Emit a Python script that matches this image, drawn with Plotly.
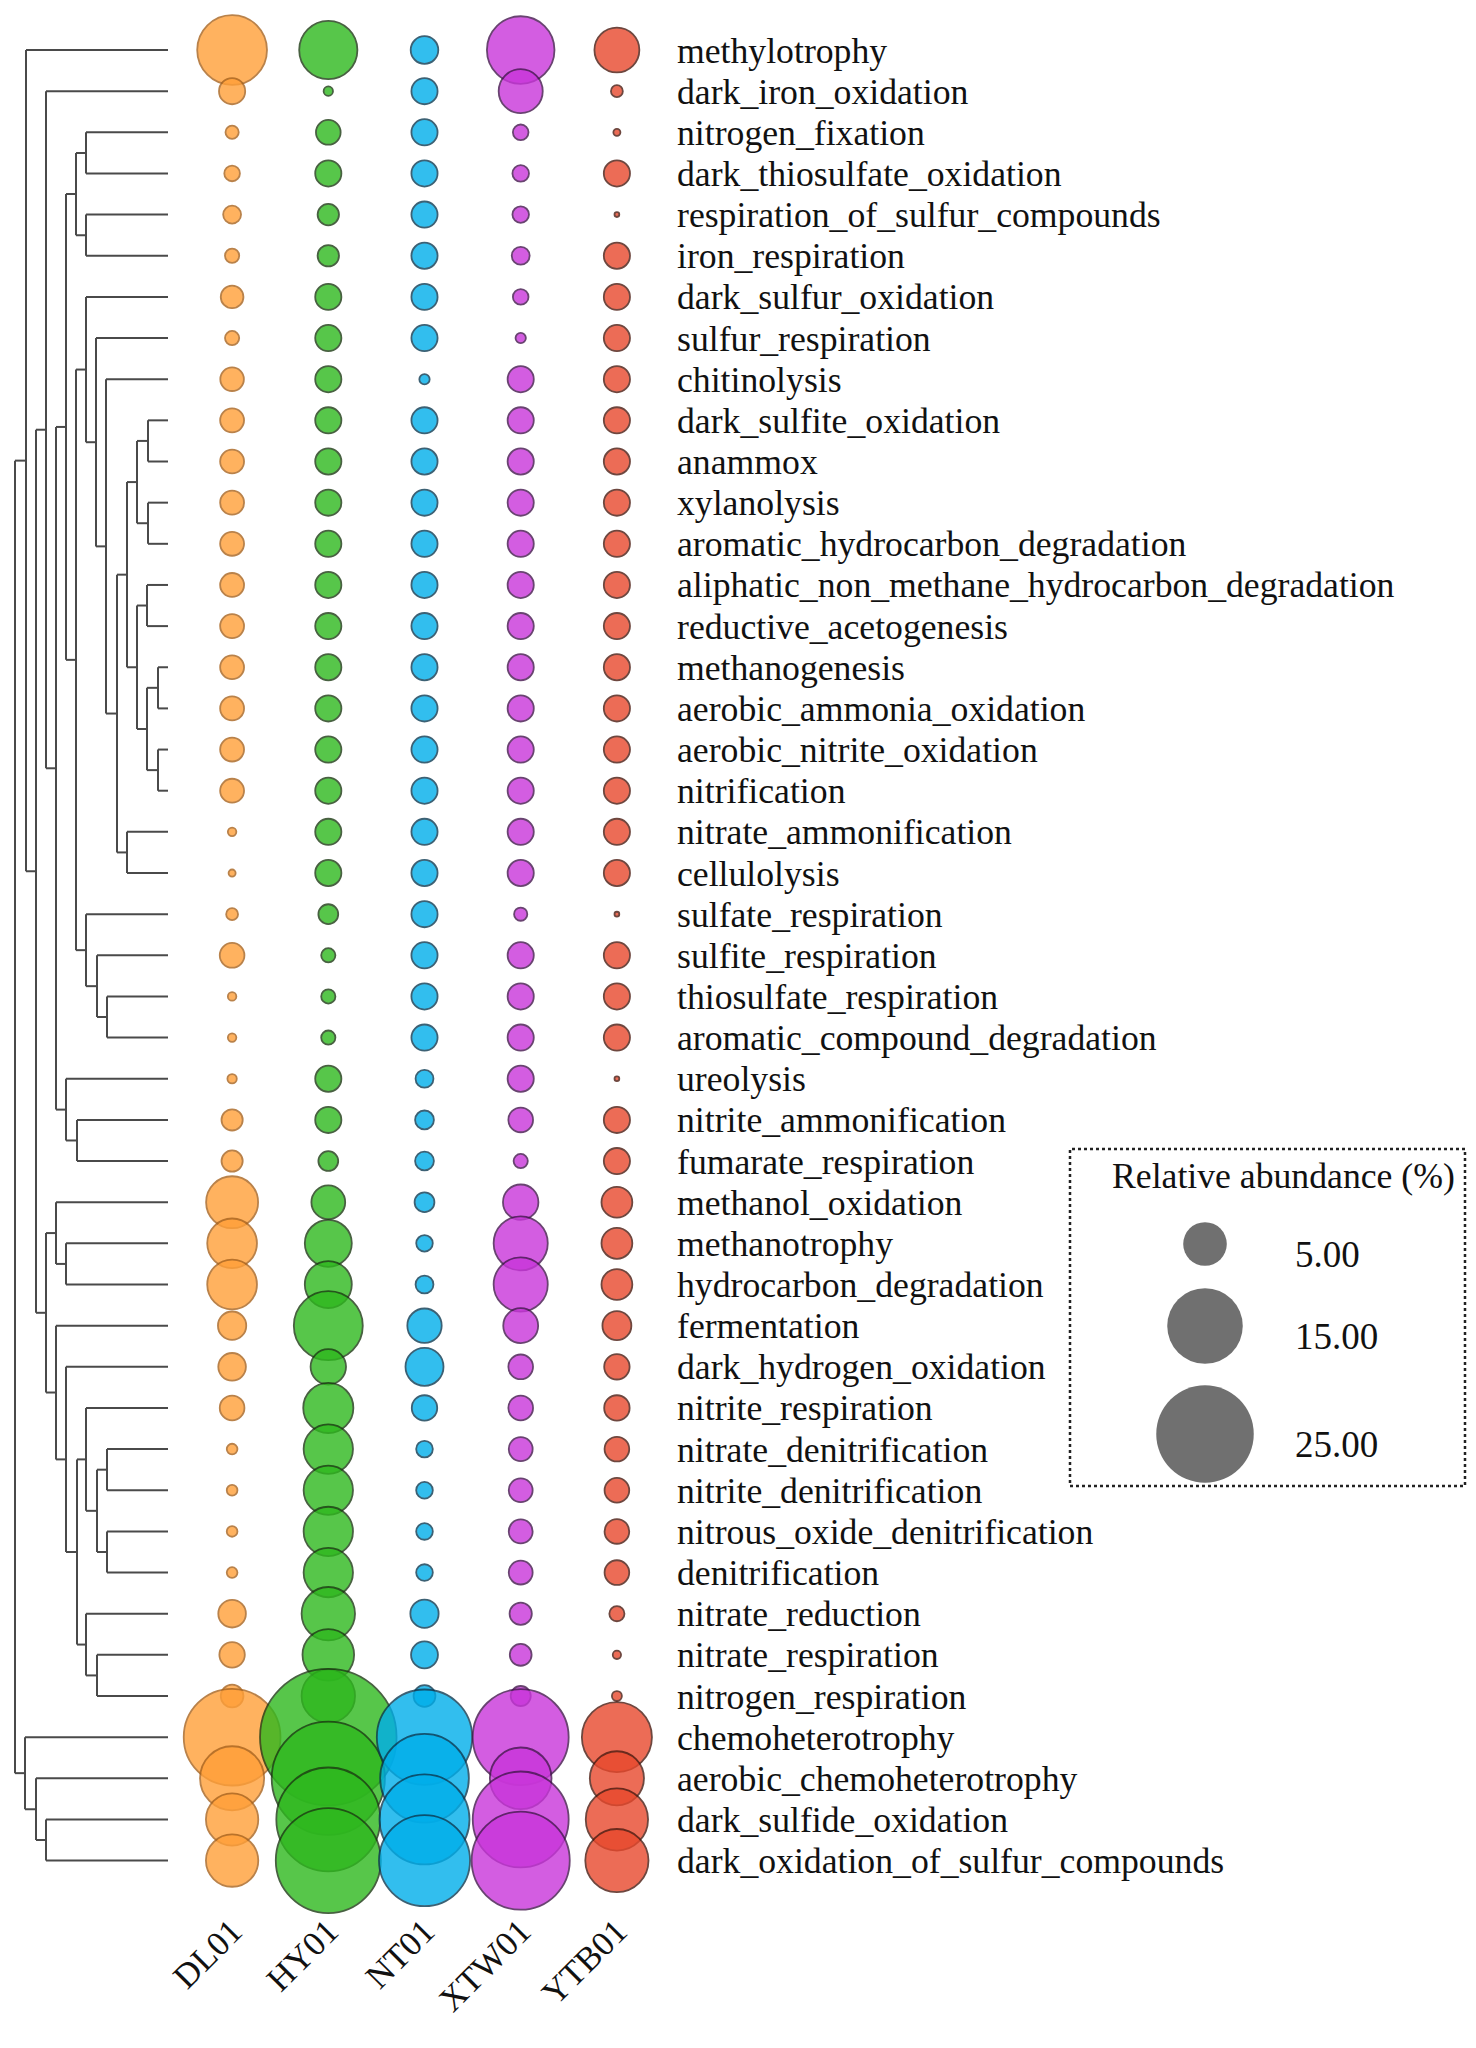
import plotly.graph_objects as go

# ---------------- data ----------------
functions = [
    "methylotrophy", "dark_iron_oxidation", "nitrogen_fixation", "dark_thiosulfate_oxidation",
    "respiration_of_sulfur_compounds", "iron_respiration", "dark_sulfur_oxidation",
    "sulfur_respiration", "chitinolysis", "dark_sulfite_oxidation", "anammox", "xylanolysis",
    "aromatic_hydrocarbon_degradation", "aliphatic_non_methane_hydrocarbon_degradation",
    "reductive_acetogenesis", "methanogenesis", "aerobic_ammonia_oxidation",
    "aerobic_nitrite_oxidation", "nitrification", "nitrate_ammonification", "cellulolysis",
    "sulfate_respiration", "sulfite_respiration", "thiosulfate_respiration",
    "aromatic_compound_degradation", "ureolysis", "nitrite_ammonification",
    "fumarate_respiration", "methanol_oxidation", "methanotrophy", "hydrocarbon_degradation",
    "fermentation", "dark_hydrogen_oxidation", "nitrite_respiration", "nitrate_denitrification",
    "nitrite_denitrification", "nitrous_oxide_denitrification", "denitrification",
    "nitrate_reduction", "nitrate_respiration", "nitrogen_respiration", "chemoheterotrophy",
    "aerobic_chemoheterotrophy", "dark_sulfide_oxidation", "dark_oxidation_of_sulfur_compounds",
]

samples = ["DL01", "HY01", "NT01", "XTW01", "YTB01"]

DL01 = [12.8, 1.8, 0.46, 0.64, 0.84, 0.53, 1.35, 0.53, 1.46, 1.5,
        1.5, 1.5, 1.5, 1.5, 1.5, 1.5, 1.5, 1.5, 1.5, 0.19,
        0.13, 0.37, 1.6, 0.19, 0.19, 0.23, 1.18, 1.18, 7.1, 6.5,
        6.5, 2.1, 2.0, 1.6, 0.3, 0.3, 0.3, 0.3, 2.0, 1.7,
        1.35, 24.6, 10.8, 7.2, 7.2]
HY01 = [8.9, 0.23, 1.6, 1.8, 1.2, 1.2, 1.8, 1.8, 1.8, 1.8,
        1.8, 1.8, 1.8, 1.8, 1.8, 1.8, 1.8, 1.8, 1.8, 1.8,
        1.8, 1.03, 0.53, 0.53, 0.53, 1.8, 1.8, 1.03, 3.0, 5.8,
        5.8, 12.5, 3.3, 6.6, 6.4, 6.4, 6.4, 6.4, 7.5, 7.0,
        7.5, 49.0, 33.7, 28.4, 29.0]
NT01 = [2.0, 1.8, 1.8, 1.8, 1.8, 1.8, 1.8, 1.8, 0.28, 1.8,
        1.8, 1.8, 1.8, 1.8, 1.8, 1.8, 1.8, 1.8, 1.8, 1.8,
        1.8, 1.8, 1.8, 1.8, 1.8, 0.84, 0.93, 0.93, 1.03, 0.72,
        0.84, 3.1, 3.8, 1.7, 0.73, 0.73, 0.73, 0.73, 2.1, 1.9,
        1.25, 23.9, 20.7, 21.3, 21.8]
XTW01 = [12.0, 5.1, 0.64, 0.72, 0.72, 0.84, 0.64, 0.28, 1.8, 1.8,
         1.8, 1.8, 1.8, 1.8, 1.8, 1.8, 1.8, 1.8, 1.8, 1.8,
         1.8, 0.46, 1.8, 1.8, 1.8, 1.8, 1.6, 0.53, 3.3, 7.7,
         7.7, 3.2, 1.6, 1.6, 1.5, 1.5, 1.5, 1.5, 1.3, 1.25,
         1.05, 24.2, 10.0, 24.2, 25.3]
YTB01 = [5.3, 0.37, 0.13, 1.8, 0.06, 1.8, 1.8, 1.8, 1.8, 1.8,
         1.8, 1.8, 1.8, 1.8, 1.8, 1.8, 1.8, 1.8, 1.8, 1.8,
         1.8, 0.06, 1.8, 1.8, 1.8, 0.06, 1.8, 1.8, 2.5, 2.5,
         2.5, 2.2, 1.7, 1.7, 1.6, 1.6, 1.6, 1.6, 0.6, 0.18,
         0.26, 12.9, 7.7, 10.2, 10.5]

legend_values = [5, 15, 25]
legend_labels = ["5.00", "15.00", "25.00"]

# hierarchical clustering of functions: (left, right, merge height); leaves = row index
tree = (
    (0,
     ((1,
       ((((2, 3, 8.2), (4, 5, 8.2), 9.2),
         ((6, (7, (8,
                   ((((9, 10, 2.0), (11, 12, 2.0), 3.1),
                     ((13, 14, 2.1), ((15, 16, 1.0), (17, 18, 1.0), 2.1), 3.1), 4.1),
                    (19, 20, 4.1), 5.1), 6.2), 7.2), 8.2),
          (21, (22, (23, 24, 6.1), 7.1), 8.2), 9.2), 10.2),
        (25, (26, 27, 9.1), 10.2), 11.2), 12.2),
      ((28, (29, 30, 10.2), 11.2),
       (31, (32, ((33, ((34, 35, 6.1), (36, 37, 6.1), 7.1), 8.2),
                  (38, (39, 40, 7.1), 8.2), 9.1), 10.2), 11.2), 12.2), 13.2), 14.2),
    (41, (42, (43, 44, 12.2), 13.2), 14.3),
    15.3,
)

# ---------------- styling / layout ----------------
PAGE_OFF = 8                      # default page body margin
W, H = 1476 - 2 * PAGE_OFF, 2048 - 2 * PAGE_OFF


def fx(px):
    return (px - PAGE_OFF) / W


def fy(px):
    return 1 - (px - PAGE_OFF) / H


FONT = "Liberation Serif"
TXT = 35.7
fills = ["#FF9F38", "#2EB81E", "#00AEEA", "#C935DA", "#E8482C"]
lines = ["#A8631E", "#1B3A12", "#0C3A52", "#44164E", "#4A1A10"]
K = 19.5                      # px diameter per sqrt(%)
sizeref = 2.0 / K ** 2

n = len(functions)
row_top, row_step = 50.0, 41.15
y_top_px = row_top - row_step / 2
y_bot_px = row_top + row_step * (n - 1) + row_step / 2

fig = go.Figure()

# dendrogram segments
xs, ys = [], []


def walk(node):
    if isinstance(node, int):
        return float(node), 0.0
    left, right, h = node
    yl, hl = walk(left)
    yr, hr = walk(right)
    for a, b in (([hl, h], [yl, yl]), ([hr, h], [yr, yr]), ([h, h], [yl, yr])):
        xs.extend(a + [None])
        ys.extend(b + [None])
    return (yl + yr) / 2, h


walk(tree)
fig.add_trace(go.Scatter(x=xs, y=ys, mode="lines", xaxis="x2", yaxis="y",
                         line=dict(color="#4a4a4a", width=2), hoverinfo="skip",
                         showlegend=False))

# bubbles
series = [DL01, HY01, NT01, XTW01, YTB01]
for i, (name, vals) in enumerate(zip(samples, series)):
    fig.add_trace(go.Scatter(
        x=[i] * n, y=list(range(n)), mode="markers", name=name,
        marker=dict(size=vals, sizemode="area", sizeref=sizeref, color=fills[i],
                    opacity=0.8, line=dict(color=lines[i], width=1.8)),
        cliponaxis=False, showlegend=False,
    ))

# size legend
box = dict(x0=1070, x1=1465, y0=1149, y1=1486)
leg_cx = 1205
leg_cy = [1244, 1326, 1434]
fig.add_trace(go.Scatter(
    x=[(leg_cx - box["x0"]) / (box["x1"] - box["x0"])] * 3,
    y=[(c - box["y0"]) / (box["y1"] - box["y0"]) for c in leg_cy],
    xaxis="x3", yaxis="y3", mode="markers",
    marker=dict(size=legend_values, sizemode="area", sizeref=sizeref, color="#707070",
                opacity=1, line=dict(width=0)),
    cliponaxis=False, showlegend=False, hoverinfo="skip",
))
fig.add_shape(type="rect", xref="paper", yref="paper",
              x0=fx(box["x0"]), x1=fx(box["x1"]), y0=fy(box["y1"]), y1=fy(box["y0"]),
              line=dict(color="#222", width=2.5, dash="dot"))
fig.add_annotation(text="Relative abundance (%)", xref="paper", yref="paper",
                   x=fx(1283), y=fy(1176), showarrow=False, xanchor="center",
                   yanchor="middle", font=dict(family=FONT, size=TXT, color="#111"))
for lab, cy in zip(legend_labels, leg_cy):
    fig.add_annotation(text=lab, xref="paper", yref="paper", x=fx(1293),
                       y=fy(cy + 10), showarrow=False, xanchor="left",
                       yanchor="middle", font=dict(family=FONT, size=37, color="#111"))

fig.update_layout(
    width=W, height=H, margin=dict(l=0, r=0, t=0, b=0),
    paper_bgcolor="white", plot_bgcolor="rgba(0,0,0,0)",
    font=dict(family=FONT, size=TXT, color="#111"),
    xaxis=dict(domain=[fx(184), fx(665)], range=[-0.5, 4.5], anchor="y", automargin=False,
               tickmode="array", tickvals=list(range(len(samples))), ticktext=samples,
               tickangle=-45, showgrid=False, zeroline=False, showline=False, ticks="",
               ticklabelstandoff=22, tickfont=dict(family=FONT, size=34.5, color="#111")),
    yaxis=dict(domain=[fy(y_bot_px), fy(y_top_px)], range=[n - 0.5, -0.5], automargin=False,
               anchor="x", side="right", tickmode="array", tickvals=list(range(n)),
               ticktext=functions, showgrid=False, zeroline=False, showline=False,
               ticks="", ticklabelstandoff=11,
               tickfont=dict(family=FONT, size=TXT, color="#111")),
    xaxis2=dict(domain=[0, fx(188)], range=[16.0, -2.0], anchor="y", visible=False,
                automargin=False),
    xaxis3=dict(domain=[fx(box["x0"]), fx(box["x1"])], range=[0, 1], anchor="y3",
                visible=False, automargin=False),
    yaxis3=dict(domain=[fy(box["y1"]), fy(box["y0"])], range=[1, 0], anchor="x3",
                visible=False, automargin=False),
)

fig.write_html("out.html")
